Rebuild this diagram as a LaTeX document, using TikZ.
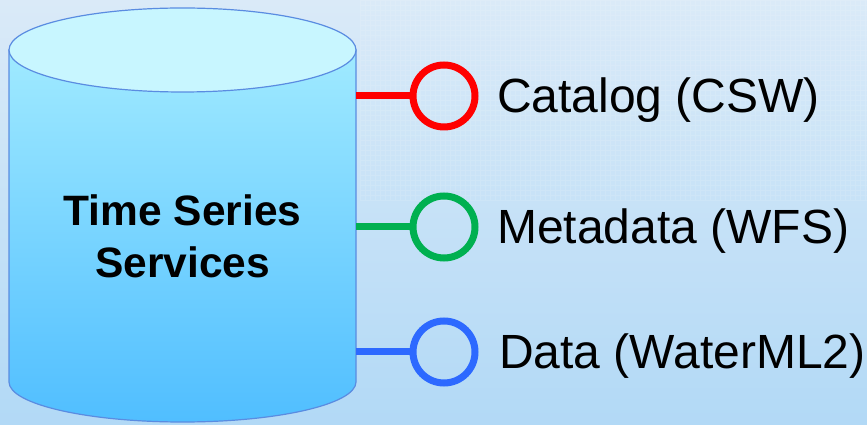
\documentclass[tikz,border=0pt]{standalone}
\usepackage{fontspec}
\setmainfont{Liberation Sans}
\definecolor{bgtop}{RGB}{218,234,248}
\definecolor{bgbot}{RGB}{178,217,246}
\definecolor{cyltop}{RGB}{160,234,255}
\definecolor{cylbot}{RGB}{80,190,255}
\definecolor{cylcap}{RGB}{200,246,255}
\definecolor{cyledge}{RGB}{90,140,225}
\definecolor{cred}{RGB}{255,0,0}
\definecolor{cgreen}{RGB}{0,176,80}
\definecolor{cblue}{RGB}{45,105,255}
\tikzset{
  port/.style={circle, draw=#1, line width=7pt, minimum size=62pt, inner sep=0pt},
  wire/.style={draw=#1, line width=7pt},
  lbl/.style={anchor=base west, inner sep=0pt, font=\fontsize{48}{56}\selectfont},
}
\begin{document}
\begin{tikzpicture}[x=1pt,y=1pt]
\useasboundingbox (0,0) rectangle (867,425);
\shade[top color=bgtop, bottom color=bgbot] (0,0) rectangle (867,425);
\draw[white, opacity=0.12, line width=0.4pt, step=5pt] (360,225) grid (867,425);
% cylinder body
\shade[top color=cyltop, bottom color=cylbot, draw=cyledge, line width=1.2pt]
  (9,375) -- (9,43) arc[start angle=180, end angle=360, x radius=173.5pt, y radius=40pt] -- (356,375) -- cycle;
\filldraw[fill=cylcap, draw=cyledge, line width=1.2pt] (182.5,375) ellipse[x radius=173.5pt, y radius=42pt];
\node[align=center, font=\bfseries\fontsize{42.5}{52}\selectfont] (tss) at (182.5,189) {Time Series\\Services};
% ports
\coordinate (p1) at (356,329);
\coordinate (p2) at (356,198);
\coordinate (p3) at (356,73);
\node[port=cred] (c1) at (444,329) {};
\node[port=cgreen] (c2) at (444,198) {};
\node[port=cblue] (c3) at (444,73) {};
\draw[wire=cred] (p1) -- (c1.west);
\draw[wire=cgreen] (p2) -- (c2.west);
\draw[wire=cblue] (p3) -- (c3.west);
\node[lbl] (l1) at (497,312) {Catalog (CSW)};
\node[lbl] (l2) at (497,181) {Metadata (WFS)};
\node[lbl] (l3) at (499,56) {Data (WaterML2)};
\end{tikzpicture}
\end{document}
